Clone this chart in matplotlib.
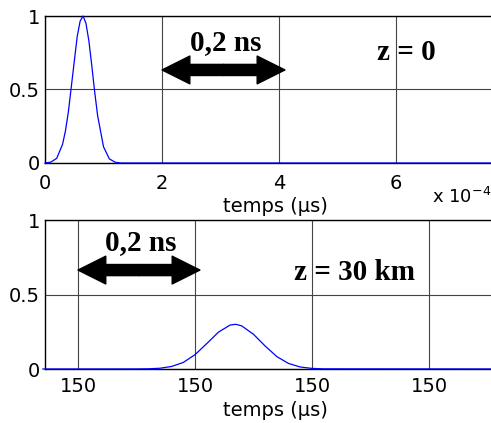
import numpy as np
import matplotlib
matplotlib.use("Agg")
import matplotlib.pyplot as plt

# impulsion a z = 0 (temps en 1e-4 us)
t0 = [0, 0.1, 0.2, 0.3, 0.35, 0.4, 0.45, 0.5, 0.55, 0.6, 0.65, 0.7, 0.75, 0.8,
      0.85, 0.9, 1.0, 1.1, 1.2, 1.3, 8.0]
y0 = [0, 0.006, 0.032, 0.127, 0.22, 0.35, 0.52, 0.69, 0.86, 0.965, 1.0, 0.95,
      0.83, 0.66, 0.48, 0.32, 0.11, 0.028, 0.005, 0, 0]

# impulsion a z = 30 km (decalage en ns apres 150 us)
t30 = [0.14, 0.30, 0.32, 0.34, 0.36, 0.38, 0.40, 0.42, 0.44, 0.46, 0.47, 0.48,
       0.50, 0.52, 0.54, 0.56, 0.58, 0.60, 0.62, 0.95]
y30 = [0, 0.0003, 0.0013, 0.005, 0.017, 0.044, 0.096, 0.17, 0.247, 0.295, 0.30,
       0.289, 0.233, 0.154, 0.083, 0.037, 0.0135, 0.004, 0.001, 0]

xticks0 = [0, 2, 4, 6]
xticklab0 = ['0', '2', '4', '6']
xticks30 = [0.2, 0.4, 0.6, 0.8]
xticklab30 = ['150', '150', '150', '150']
yticks = [0, 0.5, 1]
yticklab = ['0', '0.5', '1']

plt.rcParams['font.family'] = 'DejaVu Sans'
fig = plt.figure(figsize=(4.91, 4.23), dpi=100)

W, H = 491.0, 423.0
ax1 = fig.add_axes([45/W, 1-163/H, 460/W, 147/H])
ax2 = fig.add_axes([45/W, 1-369/H, 460/W, 149/H])


def habille(ax, pad):
    ax.set_ylim(0, 1)
    ax.set_yticks(yticks)
    ax.set_yticklabels(yticklab)
    ax.tick_params(length=0, labelsize=14)
    ax.tick_params(axis='x', pad=pad)
    ax.tick_params(axis='y', pad=3.5)
    ax.grid(True, color='#444444', linewidth=0.8, linestyle='-')
    ax.set_axisbelow(True)
    for s in ax.spines.values():
        s.set_linewidth(1.0)
        s.set_color('black')
    ax.set_xlabel('temps (µs)', fontsize=14, labelpad=3)


def fleche(ax, xa, xb, y):
    xm = (xa + xb) / 2
    for xe in (xa, xb):
        ax.annotate('', xy=(xe, y), xytext=(xm, y),
                    arrowprops=dict(arrowstyle='simple,head_length=1.0,head_width=1.0,tail_width=0.4',
                                    color='black', shrinkA=0, shrinkB=0, mutation_scale=20))


# haut
ax1.plot(np.array(t0)*1e-4, y0, color='blue', linewidth=0.9, clip_on=False, zorder=3)
ax1.set_xlim(0, 7.86e-4)
ax1.set_xticks(np.array(xticks0)*1e-4)
ax1.set_xticklabels(xticklab0)
habille(ax1, 8)
fleche(ax1, 2e-4, 4.1e-4, 0.633)
ax1.text(3.09e-4, 0.77, '0,2 ns', family='Liberation Serif', weight='bold',
         fontsize=21, ha='center', va='baseline')
ax1.text(6.17e-4, 0.70, 'z = 0', family='Liberation Serif', weight='bold',
         fontsize=21, ha='center', va='baseline')
fig.text(432/W, 1-203/H, r'x 10$^{\mathregular{-4}}$', fontsize=13, ha='left', va='baseline')

# bas
ax2.plot(150 + np.array(t30)*1e-3, y30, color='blue', linewidth=0.9, clip_on=False, zorder=3)
ax2.set_xlim(150 + 0.1436e-3, 150 + 0.93e-3)
ax2.set_xticks(150 + np.array(xticks30)*1e-3)
ax2.set_xticklabels(xticklab30)
habille(ax2, 6)
fleche(ax2, 150 + 0.2e-3, 150 + 0.4085e-3, 0.664)
ax2.text(150 + 0.3077e-3, 0.80, '0,2 ns', family='Liberation Serif', weight='bold',
         fontsize=21, ha='center', va='baseline')
ax2.text(150 + 0.6735e-3, 0.597, 'z = 30 km', family='Liberation Serif', weight='bold',
         fontsize=21, ha='center', va='baseline')

fig.savefig('out.png', dpi=100)
